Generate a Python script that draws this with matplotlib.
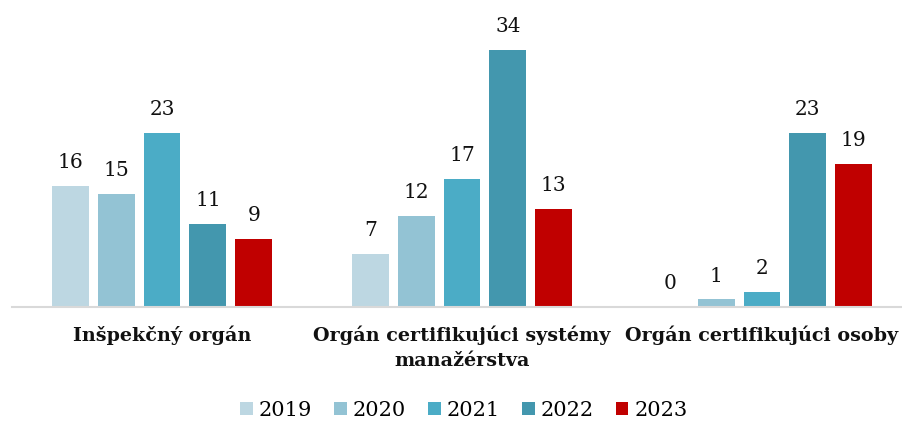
import numpy as np
import matplotlib.pyplot as plt

# data
categories = ["Inšpekčný orgán", "Orgán certifikujúci systémy\nmanažérstva", "Orgán certifikujúci osoby"]
years = ["2019", "2020", "2021", "2022", "2023"]
v2019 = [16, 7, 0]
v2020 = [15, 12, 1]
v2021 = [23, 17, 2]
v2022 = [11, 34, 23]
v2023 = [9, 13, 19]
series = [v2019, v2020, v2021, v2022, v2023]
colors = ["#BDD7E2", "#93C3D4", "#4BACC6", "#4397AE", "#C00000"]

plt.rcParams['font.family'] = ['DejaVu Serif']

fig = plt.figure(figsize=(9.02, 4.22), dpi=100)
ax = fig.add_axes([12/902, 115/422, 900/902, 287/422])

x = np.arange(len(categories))
w = 0.123
step = 0.153
for i, vals in enumerate(series):
    pos = x + (i - 2) * step
    bars = ax.bar(pos, vals, width=w, color=colors[i], label=years[i])
    for b, v in zip(bars, vals):
        ax.annotate(str(v), (b.get_x() + b.get_width()/2, v), xytext=(0, 10),
                    textcoords="offset points", ha="center", va="bottom",
                    fontsize=14.5, color="#111111")

ax.set_xlim(-0.5, 2.5)
ax.set_ylim(0, 38)
ax.set_yticks([])
ax.set_xticks(x)
ax.set_xticklabels(categories, fontsize=13.8, fontweight="bold", color="#111111",
                   linespacing=1.55)
ax.tick_params(axis="x", length=0, pad=13)
for s in ["top", "right", "left"]:
    ax.spines[s].set_visible(False)
ax.spines["bottom"].set_color("#D9D9D9")
ax.spines["bottom"].set_linewidth(1.5)

fig.legend(loc="center", bbox_to_anchor=(464/902, 1 - 410/422), ncol=5, frameon=False,
           fontsize=15, handlelength=0.6, handleheight=0.6, handletextpad=0.3,
           columnspacing=1.05)

fig.savefig("out.png", dpi=100)
